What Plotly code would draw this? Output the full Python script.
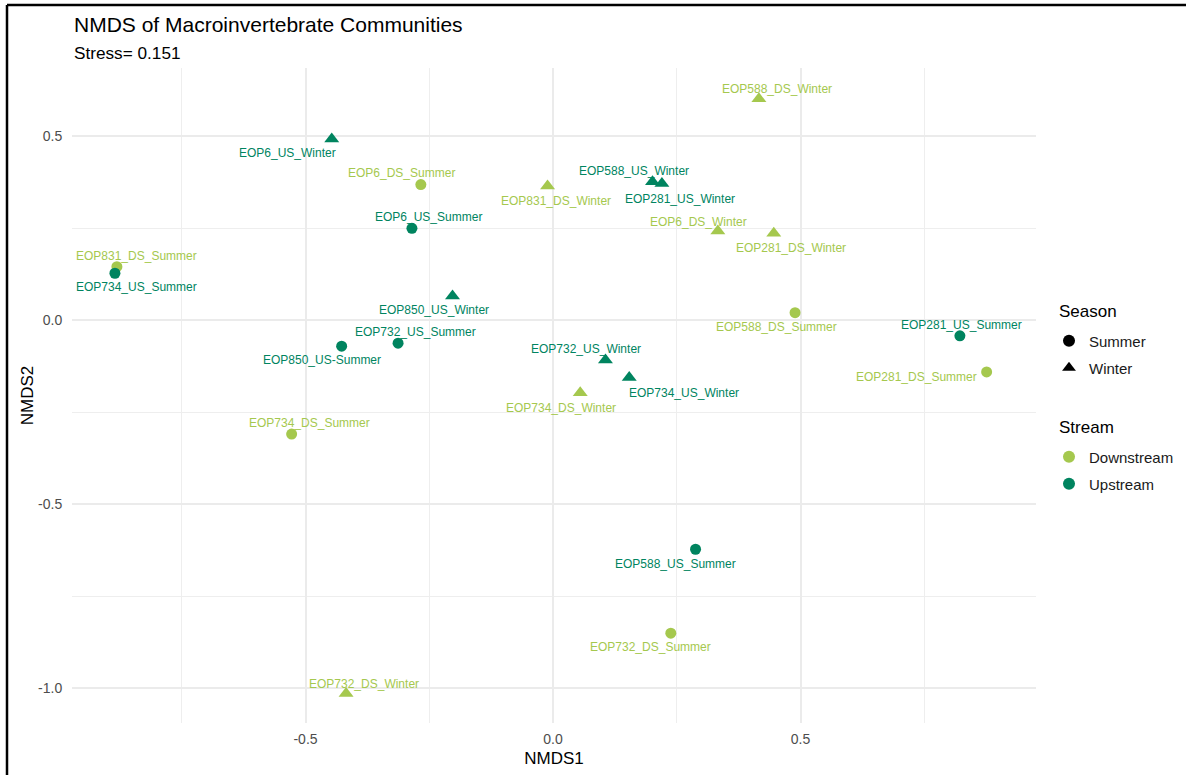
import plotly.graph_objects as go

# ---- data ----
labels = ["EOP588_DS_Winter", "EOP6_US_Winter", "EOP6_DS_Summer", "EOP6_US_Summer",
          "EOP831_DS_Summer", "EOP734_US_Summer", "EOP850_US_Winter", "EOP732_US_Summer",
          "EOP850_US-Summer", "EOP734_DS_Summer", "EOP831_DS_Winter", "EOP588_US_Winter",
          "EOP281_US_Winter", "EOP6_DS_Winter", "EOP281_DS_Winter", "EOP588_DS_Summer",
          "EOP281_US_Summer", "EOP281_DS_Summer", "EOP732_US_Winter", "EOP734_US_Winter",
          "EOP734_DS_Winter", "EOP588_US_Summer", "EOP732_DS_Summer", "EOP732_DS_Winter"]
stream = ["Downstream", "Upstream", "Downstream", "Upstream",
          "Downstream", "Upstream", "Upstream", "Upstream",
          "Upstream", "Downstream", "Downstream", "Upstream",
          "Upstream", "Downstream", "Downstream", "Downstream",
          "Upstream", "Downstream", "Upstream", "Upstream",
          "Downstream", "Upstream", "Downstream", "Downstream"]
season = ["Winter", "Winter", "Summer", "Summer",
          "Summer", "Summer", "Winter", "Summer",
          "Summer", "Summer", "Winter", "Winter",
          "Winter", "Winter", "Winter", "Summer",
          "Summer", "Summer", "Winter", "Winter",
          "Winter", "Summer", "Summer", "Winter"]
nmds1 = [0.416, -0.447, -0.267, -0.285,
         -0.881, -0.885, -0.203, -0.313,
         -0.427, -0.528, -0.011, 0.201,
         0.220, 0.333, 0.446, 0.489,
         0.822, 0.876, 0.106, 0.154,
         0.055, 0.288, 0.238, -0.418]
nmds2 = [0.601, 0.492, 0.368, 0.249,
         0.145, 0.127, 0.065, -0.063,
         -0.071, -0.310, 0.364, 0.376,
         0.371, 0.242, 0.236, 0.020,
         -0.043, -0.141, -0.109, -0.156,
         -0.198, -0.623, -0.851, -1.015]
stress = 0.151
x_ticks = [-0.5, 0.0, 0.5]
y_ticks = [-1.0, -0.5, 0.0, 0.5]
season_levels = ["Summer", "Winter"]
stream_levels = ["Downstream", "Upstream"]

# ---- styles ----
colors = {"Downstream": "#a5c84e", "Upstream": "#00845f"}
symbols = {"Summer": "circle", "Winter": "triangle-up"}
msize = {"Summer": 11, "Winter": 13}
# label offsets in pixels (dx right, dy down), mimicking ggrepel placement
label_offsets = {
    "EOP588_DS_Winter": (18, -10), "EOP6_US_Winter": (-44, 14), "EOP6_DS_Summer": (-19, -12),
    "EOP6_US_Summer": (17, -11), "EOP831_DS_Summer": (20, -11), "EOP734_US_Summer": (22, 14),
    "EOP850_US_Winter": (-19, 14), "EOP732_US_Summer": (17, -11), "EOP850_US-Summer": (-20, 14),
    "EOP734_DS_Summer": (18, -11), "EOP831_DS_Winter": (8, 15), "EOP588_US_Winter": (-19, -11),
    "EOP281_US_Winter": (18, 16), "EOP6_DS_Winter": (-19, -9), "EOP281_DS_Winter": (17, 15),
    "EOP588_DS_Summer": (-19, 14), "EOP281_US_Summer": (2, -11), "EOP281_DS_Summer": (-70, 5),
    "EOP732_US_Winter": (-19, -11), "EOP734_US_Winter": (55, 16), "EOP734_DS_Winter": (-19, 15),
    "EOP588_US_Summer": (-20, 15), "EOP732_DS_Summer": (-20, 14), "EOP732_DS_Winter": (18, -10),
}

FONT = "Liberation Sans, Arial, sans-serif"
W, H = 1186, 775
L, R, T, B = 72, 1036, 68, 723  # plot area in pixels

pw, ph = R - L, B - T
def px(xp):
    return (xp - L) / pw
def py(yp):
    return (B - yp) / ph

fig = go.Figure()

# data traces (one per stream x season combination)
for st in stream_levels:
    for se in season_levels:
        idx = [i for i in range(len(labels)) if stream[i] == st and season[i] == se]
        fig.add_trace(go.Scatter(
            x=[nmds1[i] for i in idx], y=[nmds2[i] for i in idx],
            mode="markers", showlegend=False, hoverinfo="text",
            text=[labels[i] for i in idx],
            marker=dict(symbol=symbols[se], size=msize[se], color=colors[st], line=dict(width=0)),
        ))

# legend-only traces, one legend per row so rows can be spaced like ggplot
legend_rows = [
    ("legend", season_levels[0], "#000000", symbols[season_levels[0]], 10, 341),
    ("legend2", season_levels[1], "#000000", symbols[season_levels[1]], 12, 368),
    ("legend3", stream_levels[0], colors[stream_levels[0]], "circle", 10, 457),
    ("legend4", stream_levels[1], colors[stream_levels[1]], "circle", 10, 484),
]
legend_layouts = {}
for lg, name, col, sym, sz, yc in legend_rows:
    fig.add_trace(go.Scatter(
        x=[None], y=[None], mode="markers", name=name, legend=lg,
        marker=dict(symbol=sym, size=sz, color=col, line=dict(width=0)),
    ))
    legend_layouts[lg] = dict(x=px(1049), y=py(yc), xanchor="left", yanchor="middle",
                              font=dict(family=FONT, size=15, color="#1a1a1a"),
                              itemsizing="constant", bgcolor="rgba(0,0,0,0)")

# legend titles
for title, yc in [("Season", 311), ("Stream", 427)]:
    fig.add_annotation(xref="paper", yref="paper", x=px(1057), y=py(yc), xanchor="left",
                       yanchor="middle", text=title, showarrow=False,
                       font=dict(family=FONT, size=17, color="#000000"))

# point labels
for i, lab in enumerate(labels):
    dx, dy = label_offsets[lab]
    fig.add_annotation(
        x=nmds1[i], y=nmds2[i], text=lab, showarrow=False,
        xshift=dx, yshift=-dy, xanchor="center", yanchor="middle",
        font=dict(family=FONT, size=12, color=colors[stream[i]]),
    )

# title and subtitle
fig.add_annotation(xref="paper", yref="paper", x=0, y=py(24), xanchor="left", yanchor="middle",
                   text="NMDS of Macroinvertebrate Communities", showarrow=False,
                   font=dict(family=FONT, size=21, color="#000000"))
fig.add_annotation(xref="paper", yref="paper", x=0, y=py(53), xanchor="left", yanchor="middle",
                   text=f"Stress= {stress}", showarrow=False,
                   font=dict(family=FONT, size=17.2, color="#000000"))

# frame lines on top and left of the image
fig.add_shape(type="line", xref="paper", yref="paper", x0=px(7), x1=px(1186), y0=py(5), y1=py(5),
              line=dict(color="#000000", width=2.5))
fig.add_shape(type="line", xref="paper", yref="paper", x0=px(7), x1=px(7), y0=py(5), y1=py(775),
              line=dict(color="#000000", width=2.5))

x0 = (L - 553) / 495
x1 = (R - 553) / 495
y0 = (320 - B) / 368
y1 = (320 - T) / 368

fig.update_layout(
    width=W, height=H,
    margin=dict(l=L, r=W - R, t=T, b=H - B, autoexpand=False),
    paper_bgcolor="white", plot_bgcolor="white",
    font=dict(family=FONT, color="#000000"),
    showlegend=True,
    xaxis=dict(range=[x0, x1], tickvals=x_ticks, ticktext=[f"{v:.1f}" for v in x_ticks],
               showgrid=True, gridcolor="#ebebeb", gridwidth=1.5, zeroline=False, showline=False,
               ticks="outside", ticklen=3, tickcolor="rgba(0,0,0,0)",
               tickfont=dict(family=FONT, size=14, color="#4d4d4d"),
               minor=dict(dtick=0.25, tick0=0.25, showgrid=True, gridcolor="#eeeeee", gridwidth=1.2, ticks=""),
               title=dict(text="NMDS1", font=dict(family=FONT, size=17, color="#000000"), standoff=6)),
    yaxis=dict(range=[y0, y1], tickvals=y_ticks, ticktext=[f"{v:.1f}" for v in y_ticks],
               showgrid=True, gridcolor="#ebebeb", gridwidth=1.5, zeroline=False, showline=False,
               ticks="outside", ticklen=6, tickcolor="rgba(0,0,0,0)",
               tickfont=dict(family=FONT, size=14, color="#4d4d4d"),
               minor=dict(dtick=0.25, tick0=0.25, showgrid=True, gridcolor="#eeeeee", gridwidth=1.2, ticks=""),
               title=dict(text="NMDS2", font=dict(family=FONT, size=17, color="#000000"), standoff=0)),
    **legend_layouts,
)

fig.write_html("out.html", config={"displayModeBar": False},
               post_script="document.documentElement.style.margin='0';document.body.style.margin='0';"
                           "document.body.style.overflow='hidden';")
